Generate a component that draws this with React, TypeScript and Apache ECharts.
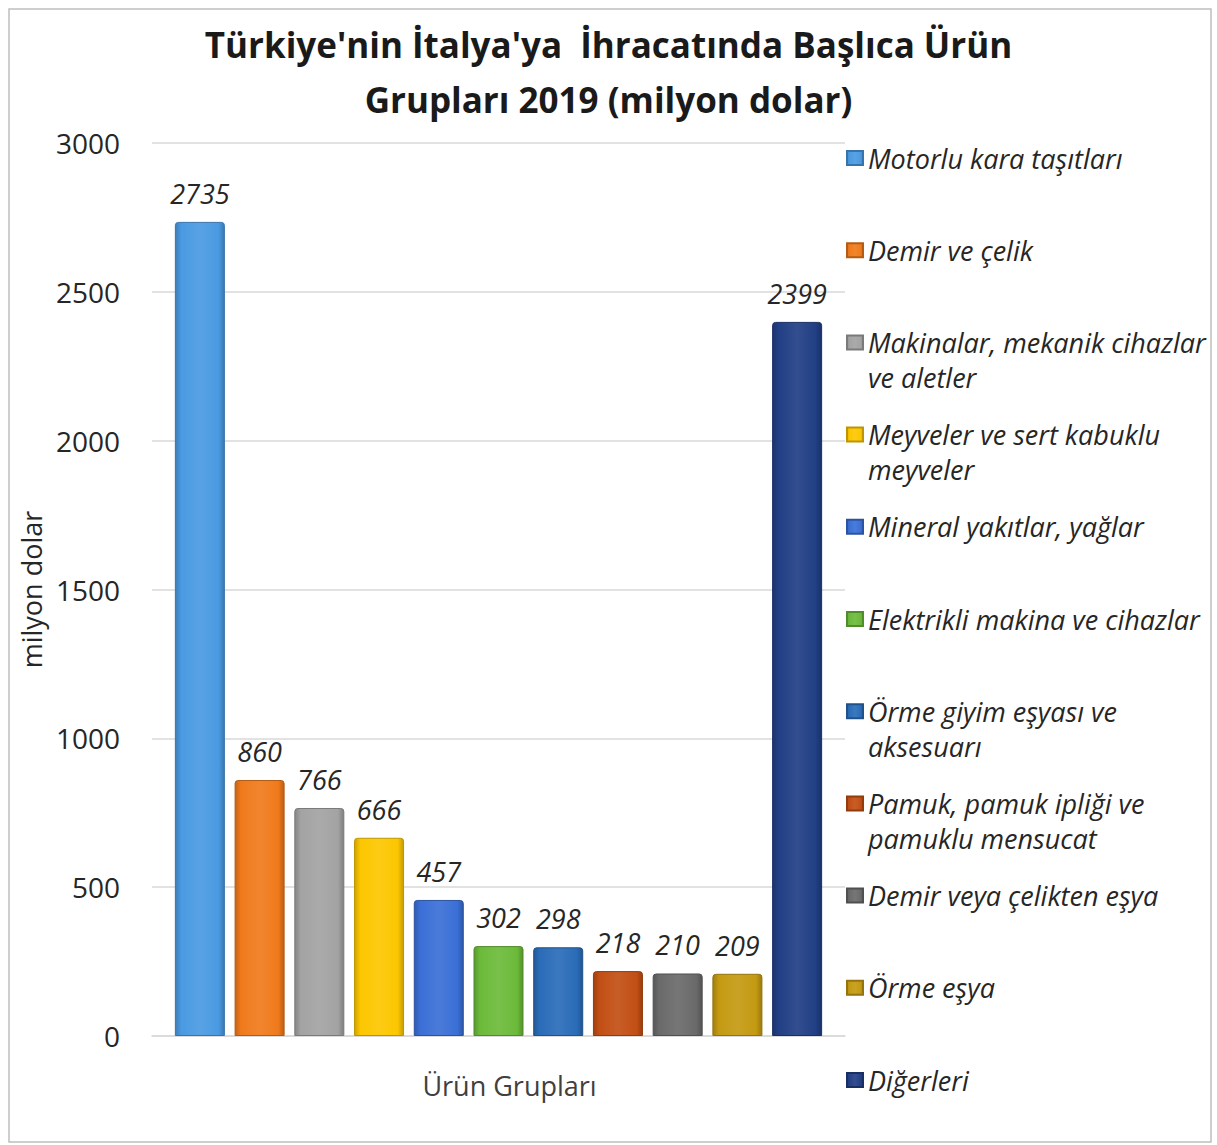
import React, { useEffect, useRef } from "react";
import * as echarts from "echarts";

const categories = ["Ürün Grupları"];
const productNames = [
  "Motorlu kara taşıtları",
  "Demir ve çelik",
  "Makinalar, mekanik cihazlar ve aletler",
  "Meyveler ve sert kabuklu meyveler",
  "Mineral yakıtlar, yağlar",
  "Elektrikli makina ve cihazlar",
  "Örme giyim eşyası ve aksesuarı",
  "Pamuk, pamuk ipliği ve pamuklu mensucat",
  "Demir veya çelikten eşya",
  "Örme eşya",
  "Diğerleri",
];
const legendLines = [
  ["Motorlu kara taşıtları"],
  ["Demir ve çelik"],
  ["Makinalar, mekanik cihazlar", "ve aletler"],
  ["Meyveler ve sert kabuklu", "meyveler"],
  ["Mineral yakıtlar, yağlar"],
  ["Elektrikli makina ve cihazlar"],
  ["Örme giyim eşyası ve", "aksesuarı"],
  ["Pamuk, pamuk ipliği ve", "pamuklu mensucat"],
  ["Demir veya çelikten eşya"],
  ["Örme eşya"],
  ["Diğerleri"],
];
const values = [2735, 860, 766, 666, 457, 302, 298, 218, 210, 209, 2399];
const barColors = [
  "#4a9ae2",
  "#f07a1c",
  "#a3a3a3",
  "#fcc700",
  "#3a6fd6",
  "#6cba3a",
  "#2a6cb8",
  "#c24f14",
  "#6a6a6a",
  "#c49a12",
  "#213f85",
];
const titleLines = ["Türkiye'nin İtalya'ya  İhracatında Başlıca Ürün", "Grupları 2019 (milyon dolar)"];
const yAxisName = "milyon dolar";

const FONT = "'Open Sans', Lato, sans-serif";

function shade(hex: string, f: number): string {
  const n = parseInt(hex.slice(1), 16);
  let r = (n >> 16) & 255,
    g = (n >> 8) & 255,
    b = n & 255;
  const adj = (c: number) =>
    Math.max(0, Math.min(255, Math.round(f < 0 ? c * (1 + f) : c + (255 - c) * f)));
  r = adj(r);
  g = adj(g);
  b = adj(b);
  return "#" + ((1 << 24) | (r << 16) | (g << 8) | b).toString(16).slice(1);
}

export default function App() {
  const ref = useRef<HTMLDivElement>(null);
  useEffect(() => {
    document.body.style.margin = "0";
    const chart = echarts.init(ref.current!, undefined, { renderer: "svg" });
    const L = 35;
    const legendCenter0 = 158;
    const legendStep = 92.2;
    const legends = productNames.map((name, i) => {
      const lines = legendLines[i];
      const n = lines.length;
      const center = legendCenter0 + i * legendStep;
      const blanks = new Array(n - 1).fill("");
      return {
        data: [name],
        orient: "vertical",
        left: 846,
        top: center - ((2 * n - 1) * L) / 2,
        padding: 0,
        itemWidth: 16,
        itemHeight: 14,
        icon: "rect",
        selectedMode: false,
        formatter: () => [...blanks, ...lines].join("\n"),
        textStyle: {
          fontFamily: FONT,
          fontStyle: "italic",
          fontSize: 27,
          lineHeight: L,
          color: "#262626",
        },
      };
    });
    const series = productNames.map((name, i) => {
      const c = barColors[i];
      return {
        name,
        type: "bar",
        data: [values[i]],
        barGap: "19.4%",
        barCategoryGap: "6.6%",
        itemStyle: {
          color: new echarts.graphic.LinearGradient(0, 0, 1, 0, [
            { offset: 0, color: shade(c, -0.18) },
            { offset: 0.12, color: c },
            { offset: 0.5, color: shade(c, 0.08) },
            { offset: 0.88, color: c },
            { offset: 1, color: shade(c, -0.22) },
          ]),
          borderColor: shade(c, -0.25),
          borderWidth: 1,
          borderRadius: [3, 3, 0, 0],
        },
        label: {
          show: true,
          position: "top",
          distance: 15,
          fontFamily: FONT,
          fontStyle: "italic",
          fontSize: 27,
          color: "#262626",
        },
      };
    });
    chart.setOption({
      animation: false,
      backgroundColor: "#ffffff",
      title: {
        text: titleLines.join("\n"),
        left: "center",
        top: 12,
        textStyle: {
          fontFamily: FONT,
          fontWeight: "bold",
          fontSize: 35,
          lineHeight: 55,
          color: "#1a1a1a",
        },
      },
      graphic: [
        {
          type: "rect",
          shape: { x: 9, y: 9, width: 1202, height: 1133 },
          style: { fill: "none", stroke: "#bfbfbf", lineWidth: 1.5 },
          silent: true,
        },
      ],
      legend: legends,
      grid: { left: 152, right: 372, top: 143, bottom: 109, containLabel: false },
      xAxis: {
        type: "category",
        data: categories,
        axisLine: { show: true, lineStyle: { color: "#d9d9d9", width: 1.5 } },
        axisTick: { show: false },
        axisLabel: {
          margin: 36,
          fontFamily: FONT,
          fontSize: 27,
          color: "#404040",
          padding: [0, 0, 0, 22],
        },
      },
      yAxis: {
        type: "value",
        min: 0,
        max: 3000,
        interval: 500,
        name: yAxisName,
        nameLocation: "middle",
        nameRotate: 90,
        nameGap: 104,
        nameTextStyle: { fontFamily: FONT, fontSize: 27, color: "#262626" },
        axisLine: { show: false },
        axisTick: { show: false },
        axisLabel: {
          margin: 32,
          fontFamily: FONT,
          fontSize: 28,
          color: "#262626",
          formatter: (v: number) => String(v),
        },
        splitLine: { lineStyle: { color: "#d9d9d9", width: 1.5 } },
      },
      series,
    });
    return () => chart.dispose();
  }, []);
  return <div ref={ref} style={{ width: 1217, height: 1145 }} />;
}
